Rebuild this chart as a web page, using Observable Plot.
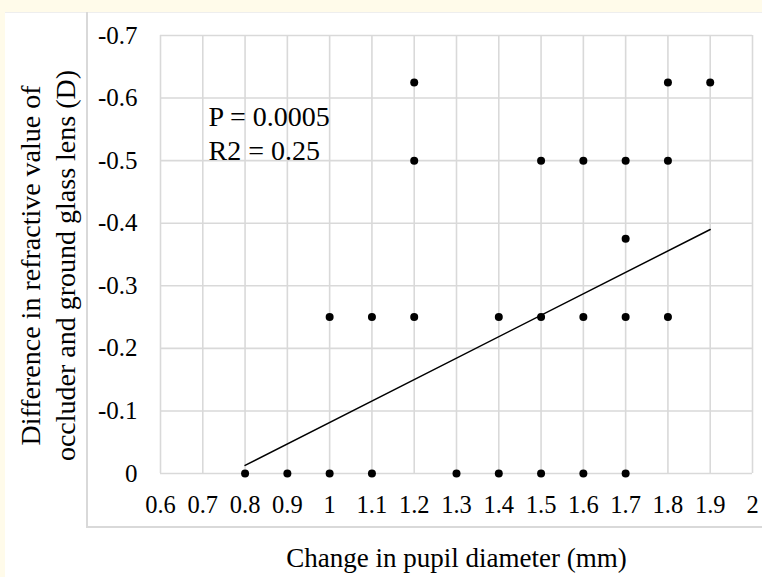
<!DOCTYPE html>
<html>
<head>
<meta charset="utf-8">
<script src="https://cdn.jsdelivr.net/npm/d3@7"></script>
<script src="https://cdn.jsdelivr.net/npm/@observablehq/plot@0.6"></script>
<style>
  html, body { margin: 0; padding: 0; background: #fffbea; }
  #wrap { position: relative; width: 762px; height: 577px; overflow: hidden; background: #fffbea; }
  #panel { position: absolute; left: 5px; top: 12px; width: 757px; height: 565px; background: #ffffff; border-top: 1px solid #eeeeee; box-sizing: border-box; }
  #box { position: absolute; left: 86px; top: 12px; width: 690px; height: 516px; border-left: 2px solid #d9d9d9; border-bottom: 2px solid #d9d9d9; box-sizing: border-box; }
  #chart { position: absolute; left: 0; top: 0; }
  #chart svg { background: transparent; }
</style>
</head>
<body>
<div id="wrap">
  <div id="panel"></div>
  <div id="box"></div>
  <div id="chart"></div>
</div>
<script>
// Observed points: change in pupil diameter (mm) vs difference in refraction (D)
const pupilChange = [0.8, 0.9, 1.0, 1.1, 1.3, 1.4, 1.5, 1.6, 1.7,
                     1.0, 1.1, 1.2, 1.4, 1.5, 1.6, 1.7, 1.8,
                     1.7,
                     1.2, 1.5, 1.6, 1.7, 1.8,
                     1.2, 1.8, 1.9];
const refractDiff = [0, 0, 0, 0, 0, 0, 0, 0, 0,
                     -0.25, -0.25, -0.25, -0.25, -0.25, -0.25, -0.25, -0.25,
                     -0.375,
                     -0.5, -0.5, -0.5, -0.5, -0.5,
                     -0.625, -0.625, -0.625];
// Trend line endpoints as drawn
const trendX = [0.8, 1.9];
const trendY = [-0.013, -0.39];
// Tick values
const xTicks = [0.6, 0.7, 0.8, 0.9, 1, 1.1, 1.2, 1.3, 1.4, 1.5, 1.6, 1.7, 1.8, 1.9, 2];
const yTicks = [0, -0.1, -0.2, -0.3, -0.4, -0.5, -0.6, -0.7];
const annotation = ["P = 0.0005\nR2 = 0.25"];
const xTitle = ["Change in pupil diameter (mm)"];
const yTitle = ["Difference in refractive value of\noccluder and ground glass lens (D)"];

const points = pupilChange.map((x, i) => ({x, y: refractDiff[i]}));
const trend = trendX.map((x, i) => ({x, y: trendY[i]}));

const font = "'Liberation Serif', 'Times New Roman', serif";

const chart = Plot.plot({
  width: 762,
  height: 577,
  marginLeft: 160,
  marginRight: 10,
  marginTop: 35,
  marginBottom: 104,
  style: {fontFamily: font, fontSize: "24px", color: "#000", background: "transparent"},
  x: {domain: [0.6, 2], label: null},
  y: {domain: [0, -0.7], label: null},
  marks: [
    Plot.gridX(xTicks, {stroke: "#d9d9d9", strokeOpacity: 1, strokeWidth: 1.6}),
    Plot.gridY(yTicks, {stroke: "#d9d9d9", strokeOpacity: 1, strokeWidth: 1.6}),
    Plot.axisX(xTicks, {tickSize: 0, tickPadding: 22, fontSize: 24.5, tickFormat: d => String(d), fill: "#000"}),
    Plot.axisY(yTicks, {tickSize: 0, tickPadding: 23, fontSize: 25, tickFormat: d => String(d), fill: "#000"}),
    Plot.line(trend, {x: "x", y: "y", stroke: "#000", strokeWidth: 1.5}),
    Plot.dot(points, {x: "x", y: "y", r: 4, fill: "#000", stroke: null}),
    Plot.text(annotation, {text: d => d, frameAnchor: "top-left", dx: 48, dy: 124, textAnchor: "start", lineAnchor: "bottom", lineHeight: 1.18, fontSize: 28, fill: "#000"}),
    Plot.text(xTitle, {text: d => d, frameAnchor: "bottom", dy: 93, textAnchor: "middle", lineAnchor: "bottom", fontSize: 27, fill: "#000"}),
    Plot.text(yTitle, {text: d => d, frameAnchor: "left", dx: -86, dy: 11, rotate: -90, textAnchor: "middle", lineAnchor: "bottom", lineHeight: 1.25, fontSize: 28, fill: "#000"})
  ]
});
document.getElementById("chart").appendChild(chart);
</script>
</body>
</html>
